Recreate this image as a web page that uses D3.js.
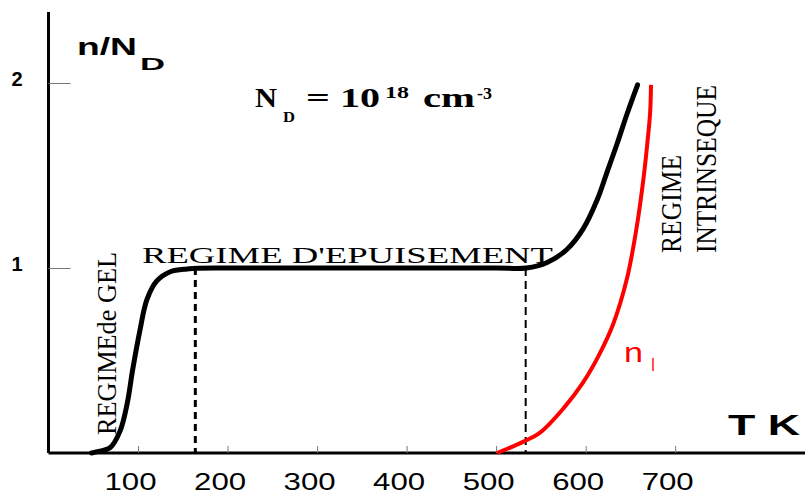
<!DOCTYPE html>
<html><head><meta charset="utf-8">
<script src="https://cdn.jsdelivr.net/npm/d3@7"></script>
<style>body{margin:0;background:#fff}svg{display:block}</style>
</head><body><svg id="c" width="805" height="496"></svg>
<script>
// ---- data ----
const xTicks = [100, 200, 300, 400, 500, 600, 700];
const yTicks = [1, 2];
const tN = [48, 52, 69, 80, 88, 94, 102, 110, 121, 136, 155, 200, 300, 400, 500, 534, 557, 579, 597, 613, 624, 635, 646, 658];
const nN = [0, 0.005, 0.03, 0.12, 0.27, 0.45, 0.66, 0.83, 0.93, 0.98, 0.995, 1, 1, 1, 1, 1.0, 1.03, 1.10, 1.21, 1.37, 1.52, 1.67, 1.83, 1.99];
const tNi = [501, 530, 549, 575, 597, 616, 631, 646, 657, 665, 669, 672, 673];
const nNi = [0, 0.06, 0.11, 0.24, 0.38, 0.54, 0.70, 0.94, 1.22, 1.50, 1.68, 1.84, 1.99];
const tDash = [164, 533];

const svg = d3.select("#c");
const x = d3.scaleLinear().domain([0, 845]).range([48.5, 805]);
const y = d3.scaleLinear().domain([0, 2]).range([453, 83]);
const SANS = "'Liberation Sans', Arial, sans-serif";
const SERIF = "'Liberation Serif', 'Times New Roman', serif";

// x axis
const gx = svg.append("g").attr("transform", `translate(0,${y(0)})`)
  .call(d3.axisBottom(x).tickValues(xTicks).tickFormat(d3.format("d")).tickSizeInner(-7).tickSizeOuter(0).tickPadding(20));
gx.select(".domain").attr("stroke", "#000").attr("stroke-width", 3).attr("d", `M${x(0)},0H805`);
gx.selectAll(".tick line").attr("stroke", "#777").attr("stroke-width", 1);
gx.selectAll(".tick text").attr("font-family", SANS).attr("font-size", 23).attr("fill", "#000")
  .attr("dx", -8).attr("y", 37).attr("dy", 0)
  .attr("textLength", 52).attr("lengthAdjust", "spacingAndGlyphs");

// y axis
const gy = svg.append("g").attr("transform", `translate(${x(0)},0)`)
  .call(d3.axisLeft(y).tickValues(yTicks).tickFormat(d3.format("d")).tickSizeInner(-22).tickSizeOuter(0).tickPadding(26));
gy.select(".domain").attr("stroke", "#000").attr("stroke-width", 3).attr("d", `M0,12V${y(0)}`);
gy.selectAll(".tick line").attr("stroke", "#777").attr("stroke-width", 1);
gy.selectAll(".tick text").attr("font-family", SANS).attr("font-size", 20).attr("font-weight", "bold")
  .attr("fill", "#000").attr("dy", "0.1em");

// dashed lines
svg.selectAll("line.dash").data(tDash).enter().append("line")
  .attr("x1", d => x(d)).attr("x2", d => x(d)).attr("y1", y(1)).attr("y2", y(0))
  .attr("stroke", "#000").attr("stroke-width", (d, i) => i === 0 ? 3 : 2)
  .attr("stroke-dasharray", (d, i) => i === 0 ? "7,5" : "8,5");

// curves
const line = d3.line().x(d => x(d[0])).y(d => y(d[1])).curve(d3.curveCatmullRom.alpha(0.5));
svg.append("path").datum(tN.map((t, i) => [t, nN[i]])).attr("d", line)
  .attr("fill", "none").attr("stroke", "#000").attr("stroke-width", 5).attr("stroke-linecap", "round");
svg.append("path").datum(tNi.map((t, i) => [t, nNi[i]])).attr("d", line)
  .attr("fill", "none").attr("stroke", "#ff0000").attr("stroke-width", 4);

// text helper
function txt(s, px, py, o) {
  const t = svg.append("text").attr("x", px).attr("y", py).text(s)
    .attr("font-family", o.f || SANS).attr("font-size", o.s).attr("fill", o.c || "#000");
  if (o.b) t.attr("font-weight", "bold");
  if (o.len) t.attr("textLength", o.len).attr("lengthAdjust", "spacingAndGlyphs");
  if (o.rot) t.attr("transform", `rotate(-90,${px},${py})`);
  return t;
}
// y label
txt("n/N", 77, 55, {s: 24, b: true, len: 60});
txt("D", 140, 70, {s: 16, b: true, len: 25});
// x label
txt("T K", 728, 435, {s: 30, b: true, len: 72});
// N_D = 10^18 cm^-3
txt("N", 255, 107, {f: SERIF, s: 28, b: true, len: 22});
txt("D", 283, 122, {f: SERIF, s: 14, b: true, len: 12});
txt("=", 306, 107, {f: SERIF, s: 28, b: true, len: 24});
txt("10", 340, 107, {f: SERIF, s: 28, b: true, len: 40});
txt("18", 385, 98, {f: SERIF, s: 16, b: true, len: 24});
txt("cm", 423, 107, {f: SERIF, s: 28, b: true, len: 52});
txt("-3", 477, 99, {f: SERIF, s: 16, b: true, len: 15});
// regimes
txt("REGIME D'EPUISEMENT", 142, 263, {f: SERIF, s: 23, len: 411});
txt("REGIMEde GEL", 116, 435, {f: SERIF, s: 27, len: 183, rot: true});
txt("REGIME", 681, 253, {f: SERIF, s: 30, len: 98, rot: true});
txt("INTRINSEQUE", 716, 253, {f: SERIF, s: 30, len: 168, rot: true});
// n_I
txt("n", 624, 362, {s: 27, c: "#ff0000", len: 19});
txt("I", 651, 371, {s: 19, c: "#ff0000", len: 4});
</script></body></html>
